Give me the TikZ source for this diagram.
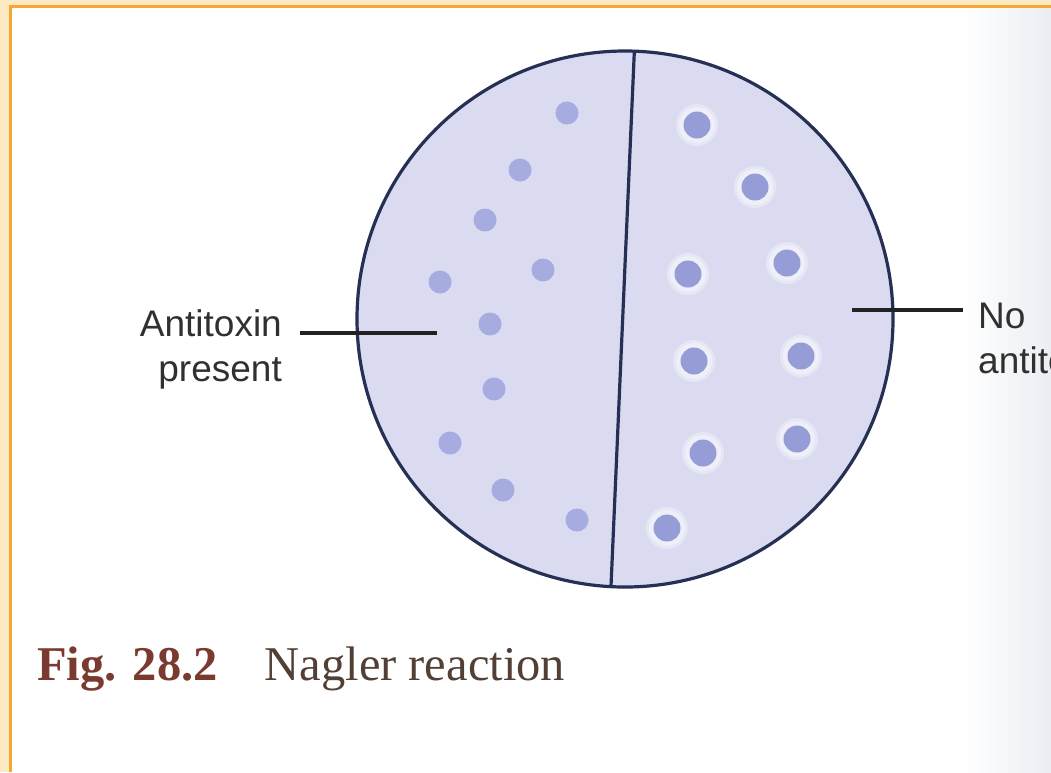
\documentclass[tikz,border=0pt]{standalone}
\usepackage{fontspec}
\setmainfont{Liberation Serif}
\setsansfont{Liberation Sans}
\usepackage{tikz}
\usetikzlibrary{calc}
\definecolor{agar}{RGB}{218,219,240}
\definecolor{rim}{RGB}{38,48,84}
\definecolor{spot}{RGB}{166,172,224}
\definecolor{spotdark}{RGB}{150,157,214}
\definecolor{labelgray}{RGB}{48,48,48}
\definecolor{figred}{RGB}{122,58,48}
\definecolor{figbrown}{RGB}{82,64,54}
\definecolor{frameband}{RGB}{251,234,196}
\definecolor{frameline}{RGB}{248,166,48}
\definecolor{pageedge}{RGB}{234,238,243}
\tikzset{
	plate/.style={
		circle,
		minimum size=536,
		fill=agar,
		draw=rim,
		line width=3.2,
		inner sep=0,
		outer sep=0,
	},
	colony/.style={
		circle,
		minimum size=23,
		fill=spot,
		inner sep=0,
		outer sep=0,
	},
	bigcolony/.style={
		colony,
		minimum size=27,
		fill=spotdark,
	},
	halo/.style={
		fill=white,
		opacity=.35,
	},
	leader/.style={
		line width=3.4,
		draw=labelgray!70!black,
	},
	label/.style={
		inner sep=0,
		text=labelgray,
		font=\sffamily\fontsize{37}{45}\selectfont,
	}
}

\begin{document}
\begin{tikzpicture}[x=1pt,y=-1pt]
	\useasboundingbox (0,0) rectangle (1051,772);
	\clip (0,0) rectangle (1051,772);

	% page and frame
	\fill[frameband] (0,0) rectangle (1051,772);
	\fill[white] (10,6) rectangle (1051,772);
	\shade[left color=white, right color=pageedge] (965,6) rectangle (1051,772);
	\draw[frameline, line width=3] (10,772) -- (10,6) -- (1051,6);

	% plate with the two halves
	\node[plate] (plate) at (625,319) {};
	\draw[rim, line width=3.2] (plate.88.7) -- (plate.267.7);

	% colonies on the antitoxin half
	\foreach \x/\y [count=\i] in {567/113, 520/170, 485/220, 543/270, 440/282,
		490/324, 494/389, 450/443, 503/490, 577/520}
		\node[colony] (l\i) at (\x,\y) {};

	% colonies with opaque zones on the other half
	\foreach \x/\y [count=\i] in {697/125, 755/187, 688/274, 787/263, 694/361,
		801/356, 703/453, 797/439, 667/528} {
		\fill[halo] (\x,\y) circle (21);
		\fill[halo] (\x,\y) circle (18);
		\node[bigcolony] (r\i) at (\x,\y) {};
	}

	% labels
	\node[label, align=right, anchor=north east] (anti) at (282,309) {Antitoxin\\present};
	\coordinate (antiend) at (437,333);
	\draw[leader] ([xshift=18]anti.east |- antiend) -- (antiend);

	\node[label, align=left, anchor=north west] (noanti) at (978,303) {No\\antitoxin};
	\coordinate (noend) at (852,310);
	\draw[leader] (noend) -- ([xshift=-15]noanti.west |- noend);

	% caption
	\node[anchor=base west, inner sep=0, font=\fontsize{48.5}{57}\selectfont] (caption) at (37,680)
		{\textcolor{figred}{\textbf{Fig. 28.2}}\hspace{47pt}\textcolor{figbrown}{Nagler reaction}};
\end{tikzpicture}
\end{document}
